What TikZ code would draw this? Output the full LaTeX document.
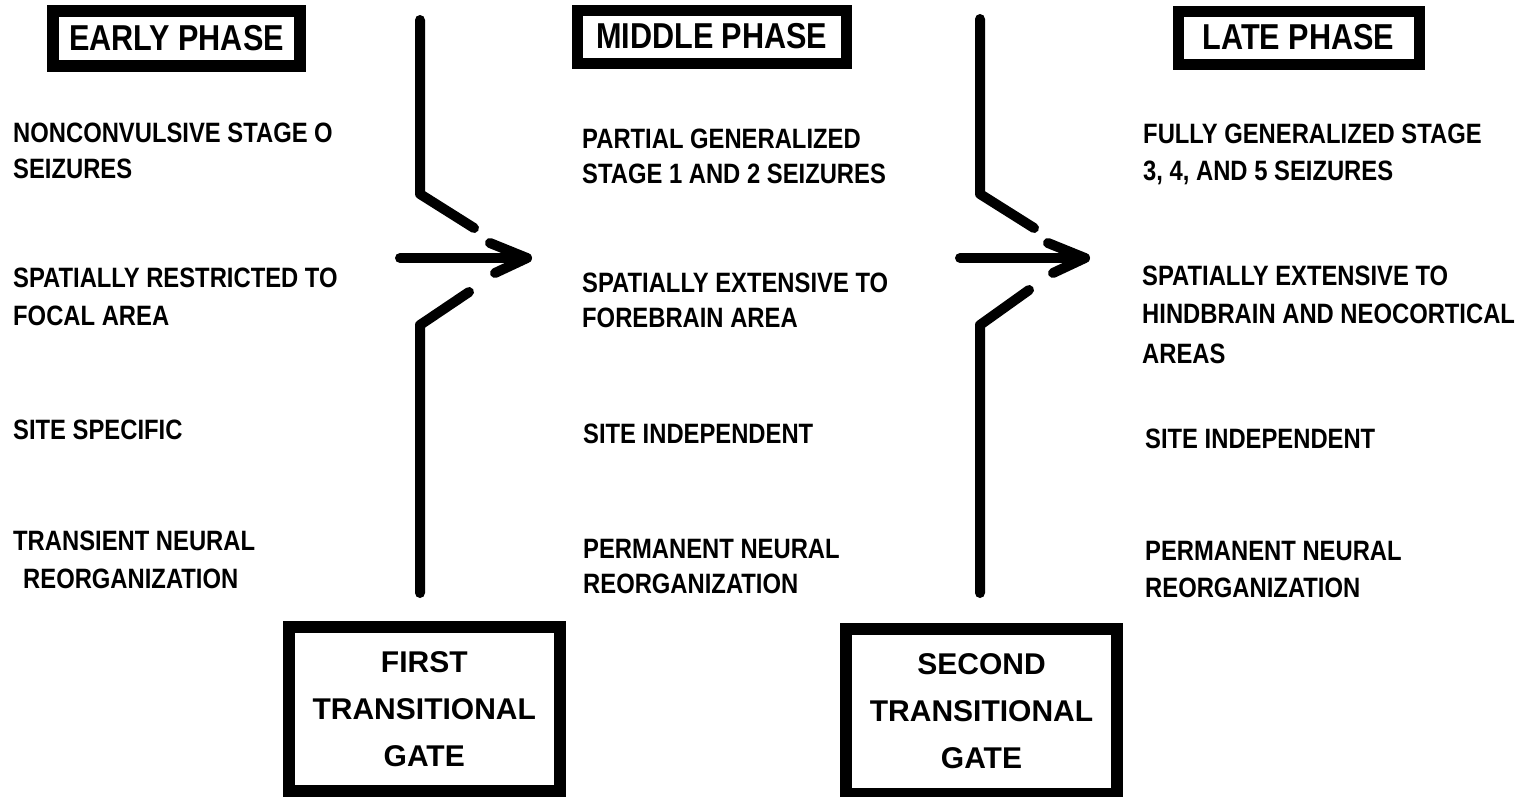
\documentclass[tikz,border=0pt]{standalone}
\usepackage{fontspec}
\newfontfamily\bodyfont[FakeStretch=0.85]{Liberation Sans}
\newfontfamily\gatefont{Liberation Sans}
\begin{document}
\begin{tikzpicture}[x=1pt,y=-1pt,
  txt/.style={anchor=base west, inner sep=0pt, font=\bodyfont\bfseries\fontsize{28}{32}\selectfont},
  phase/.style={draw, line width=12pt, inner sep=0pt, font=\bodyfont\bfseries\fontsize{36}{40}\selectfont},
  gatebox/.style={draw, line width=12pt, align=center, inner sep=0pt, font=\gatefont\bfseries\fontsize{30}{47}\selectfont},
  gateline/.style={line width=10pt, line cap=round, line join=round}]
\fill[white] (0,0) rectangle (1524,796);
\useasboundingbox (0,0) rectangle (1524,796);

% phase boxes
\node[phase, minimum width=247pt, minimum height=55pt] (early) at (176.5,38.5) {EARLY PHASE};
\node[phase, line width=11pt, minimum width=268.5pt, minimum height=53pt] (middle) at (711.75,36.5) {MIDDLE PHASE};
\node[phase, line width=11pt, minimum width=241pt, minimum height=53pt] (late) at (1298.5,37.5) {LATE PHASE};

% gate boxes
\node[gatebox, minimum width=270.5pt, minimum height=164.5pt] (gate1) at (424.25,708.75) {FIRST\\TRANSITIONAL\\GATE};
\node[gatebox, minimum width=271pt, minimum height=165.5pt] (gate2) at (981.5,711.25) {SECOND\\TRANSITIONAL\\GATE};

% column 1
\node[txt] (e1a) at (13,142) {NONCONVULSIVE STAGE O};
\node[txt] (e1b) at (13,178) {SEIZURES};
\node[txt] (e2a) at (13,287) {SPATIALLY RESTRICTED TO};
\node[txt] (e2b) at (13,325) {FOCAL AREA};
\node[txt] (e3) at (13,439) {SITE SPECIFIC};
\node[txt] (e4a) at (13,550) {TRANSIENT NEURAL};
\node[txt] (e4b) at (23,588) {REORGANIZATION};

% column 2
\node[txt] (m1a) at (582,148) {PARTIAL GENERALIZED};
\node[txt] (m1b) at (582,183) {STAGE 1 AND 2 SEIZURES};
\node[txt] (m2a) at (582,292) {SPATIALLY EXTENSIVE TO};
\node[txt] (m2b) at (582,327) {FOREBRAIN AREA};
\node[txt] (m3) at (583,443) {SITE INDEPENDENT};
\node[txt] (m4a) at (583,558) {PERMANENT NEURAL};
\node[txt] (m4b) at (583,593) {REORGANIZATION};

% column 3
\node[txt] (l1a) at (1143,143) {FULLY GENERALIZED STAGE};
\node[txt] (l1b) at (1143,180) {3, 4, AND 5 SEIZURES};
\node[txt] (l2a) at (1142,285) {SPATIALLY EXTENSIVE TO};
\node[txt] (l2b) at (1142,323) {HINDBRAIN AND NEOCORTICAL};
\node[txt] (l2c) at (1142,363) {AREAS};
\node[txt] (l3) at (1145,448) {SITE INDEPENDENT};
\node[txt] (l4a) at (1145,560) {PERMANENT NEURAL};
\node[txt] (l4b) at (1145,597) {REORGANIZATION};

% gate 1 geometry
\coordinate (g1t) at (420,20);
\coordinate (g1b1) at (420,194);
\coordinate (g1d1) at (474,228);
\coordinate (g1d2) at (469,292);
\coordinate (g1b2) at (420,325);
\coordinate (g1bot) at (420,593);
\coordinate (a1s) at (400,258);
\coordinate (a1t) at (527,258);
\coordinate (a1u) at (490,243);
\coordinate (a1l) at (495,273);
\draw[gateline] (g1t) -- (g1b1) -- (g1d1);
\draw[gateline] (g1d2) -- (g1b2) -- (g1bot);
\draw[gateline] (a1s) -- (a1t);
\draw[gateline] (a1u) -- (a1t) -- (a1l);

% gate 2 geometry
\coordinate (g2t) at (980,19);
\coordinate (g2b1) at (980,194);
\coordinate (g2d1) at (1034,228);
\coordinate (g2d2) at (1029,290);
\coordinate (g2b2) at (980,325);
\coordinate (g2bot) at (980,593);
\coordinate (a2s) at (960,258);
\coordinate (a2t) at (1085,258);
\coordinate (a2u) at (1048,243);
\coordinate (a2l) at (1053,273);
\draw[gateline] (g2t) -- (g2b1) -- (g2d1);
\draw[gateline] (g2d2) -- (g2b2) -- (g2bot);
\draw[gateline] (a2s) -- (a2t);
\draw[gateline] (a2u) -- (a2t) -- (a2l);
\end{tikzpicture}
\end{document}
